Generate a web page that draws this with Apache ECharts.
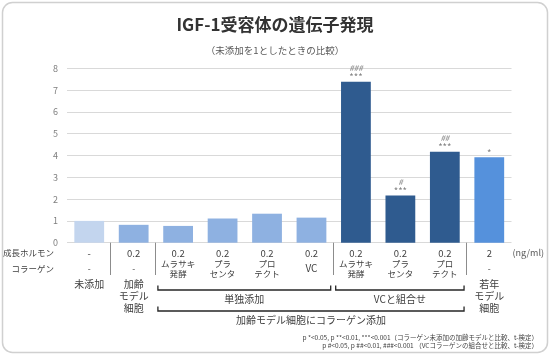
<!DOCTYPE html>
<html><head><meta charset="utf-8">
<script src="https://cdn.jsdelivr.net/npm/echarts@6/dist/echarts.min.js"></script>
<style>html,body{margin:0;padding:0;background:#fff}#c{width:550px;height:356px}</style>
</head><body><div id="c"></div>
<script>
// ---- data ----
const categories = ['未添加','加齢モデル細胞','ムラサキ発酵','プラセンタ','プロテクト','VC','ムラサキ発酵+VC','プラセンタ+VC','プロテクト+VC','若年モデル細胞'];
const values = [1.0, 0.82, 0.77, 1.11, 1.33, 1.15, 7.38, 2.17, 4.17, 3.92];
const hormoneLabels = ['-','0.2','0.2','0.2','0.2','0.2','0.2','0.2','0.2','2'];
const collagenLabels = ['-','-','ムラサキ\n発酵','プラ\nセンタ','プロ\nテクト','VC','ムラサキ\n発酵','プラ\nセンタ','プロ\nテクト','-'];
const groupLabels = ['未添加','加齢\nモデル\n細胞','','','','','','','','若年\nモデル\n細胞'];
const sigStars = ['','','','','','','***','***','***','*'];
const sigHashes = ['','','','','','','###','#','##',''];
const yMin = 0, yMax = 8, yStep = 1;
const titleText = 'IGF-1受容体の遺伝子発現';
const subtitleText = '（未添加を1としたときの比較）';
const rowNames = ['成長ホルモン','コラーゲン'];
const unitLabel = '(ng/ml)';
const brackets = [
  {from: 2, to: 5, label: '単独添加', level: 0},
  {from: 6, to: 8, label: 'VCと組合せ', level: 0},
  {from: 2, to: 8, label: '加齢モデル細胞にコラーゲン添加', level: 1}
];
const separatorsBefore = [1, 2, 6, 9];
const footnotes = [
  'p *<0.05, p **<0.01, ***<0.001（コラーゲン未添加の加齢モデルと比較、t-検定）',
  'p #<0.05, p ##<0.01, ###<0.001 （VCコラーゲンの組合せと比較、t-検定）'
];

// ---- styles ----
const barColors = ['#c3d5ee','#8eb1e1','#8eb1e1','#8eb1e1','#8eb1e1','#8eb1e1','#2f5b8f','#2f5b8f','#2f5b8f','#5591dc'];
const FONT = '"Noto Sans CJK JP", "Noto Sans", sans-serif';
const AXIS_Y = 242.7;

const chart = echarts.init(document.getElementById('c'), null, {renderer: 'canvas'});

function catAxis(formatter, margin, va, fontSize, lineHeight) {
  return {
    type: 'category', data: categories, position: 'bottom', offset: 0,
    axisLine: {show: false}, axisTick: {show: false},
    axisLabel: {
      interval: 0, hideOverlap: false, formatter: formatter, margin: margin,
      verticalAlign: va, fontFamily: FONT, fontSize: fontSize, lineHeight: lineHeight, color: '#404040'
    }
  };
}

const option = {
  animation: false,
  backgroundColor: '#fff',
  title: {
    text: titleText, subtext: subtitleText, left: 'center', top: 9, itemGap: 8,
    textStyle: {fontFamily: FONT, fontSize: 17, fontWeight: 'bold', color: '#333', lineHeight: 22},
    subtextStyle: {fontFamily: FONT, fontSize: 9.5, color: '#595959', lineHeight: 12}
  },
  grid: {left: 67, right: 38.5, top: 68.3, bottom: 356 - AXIS_Y, containLabel: false},
  xAxis: [
    catAxis((v, i) => hormoneLabels[i], 10.5, 'middle', 9.5, 12),
    catAxis((v, i) => collagenLabels[i] === 'VC' ? '{vc|VC}' : collagenLabels[i], 26, 'middle', 8.5, 10),
    catAxis((v, i) => groupLabels[i], 36, 'top', 10, 12)
  ],
  yAxis: {
    type: 'value', min: yMin, max: yMax, interval: yStep,
    axisLine: {show: false}, axisTick: {show: false},
    axisLabel: {fontFamily: FONT, fontSize: 9, color: '#7f7f7f', margin: 9},
    splitLine: {lineStyle: {color: '#d9d9d9', width: 1}}
  },
  series: [{
    type: 'bar', xAxisIndex: 0,
    barCategoryGap: '33%',
    data: values.map((v, i) => ({value: v, itemStyle: {color: barColors[i]}})),
    label: {
      show: true, position: 'top', distance: 0,
      formatter: p => {
        const h = sigHashes[p.dataIndex], s = sigStars[p.dataIndex];
        if (!h && !s) return '';
        return (h ? '{h|' + h + '}\n' : '') + '{s|' + s + '}';
      },
      rich: {
        h: {fontFamily: FONT, fontSize: 8, color: '#7f7f7f', fontStyle: 'italic', lineHeight: 11},
        s: {fontFamily: FONT, fontSize: 9.5, color: '#7f7f7f', lineHeight: 8}
      }
    }
  }]
};
option.xAxis[1].axisLabel.rich = {vc: {fontFamily: FONT, fontSize: 10, color: '#404040'}};
chart.setOption(option);

// ---- overlay graphics positioned from the axis scale ----
const cx = i => chart.convertToPixel({xAxisIndex: 0}, i);
const band = cx(1) - cx(0);
const left = i => cx(i) - band / 2;
const right = i => cx(i) + band / 2;

const g = [];
g.push({type: 'rect', shape: {x: 2.5, y: 2.5, width: 545, height: 350, r: 10},
  style: {fill: 'none', stroke: '#d0d0d0', lineWidth: 1.5}, silent: true, z: 100});
rowNames.forEach((t, k) => g.push({type: 'text', x: 54, y: [253, 269][k],
  style: {text: t, fontFamily: FONT, fontSize: 8.5, fill: '#404040', align: 'right', verticalAlign: 'middle'}}));
g.push({type: 'text', x: right(9) + 1, y: 253,
  style: {text: unitLabel, fontFamily: FONT, fontSize: 9, fill: '#595959', align: 'left', verticalAlign: 'middle'}});
separatorsBefore.forEach(i => {
  const x = Math.round(left(i)) - 0.5;
  g.push({type: 'line', shape: {x1: x, y1: AXIS_Y, x2: x, y2: 275}, style: {stroke: '#8c8c8c', lineWidth: 1}});
});
brackets.forEach(b => {
  const x1 = left(b.from) + 2, x2 = right(b.to) - 3;
  const y = b.level === 0 ? 290 : 311;
  g.push({type: 'polyline', shape: {points: [[x1, y - 4.5], [x1, y], [x2, y], [x2, y - 4.5]]},
    style: {stroke: '#262626', lineWidth: 1.3, fill: 'none'}});
  g.push({type: 'text', x: (x1 + x2) / 2, y: y + 9.5,
    style: {text: b.label, fontFamily: FONT, fontSize: 10, fill: '#404040', align: 'center', verticalAlign: 'middle'}});
});
footnotes.forEach((t, k) => g.push({type: 'text', x: 538, y: 338 + k * 8,
  style: {text: t, fontFamily: FONT, fontSize: 6.5, fill: '#404040', align: 'right', verticalAlign: 'middle'}}));

chart.setOption({graphic: g});
</script></body></html>
